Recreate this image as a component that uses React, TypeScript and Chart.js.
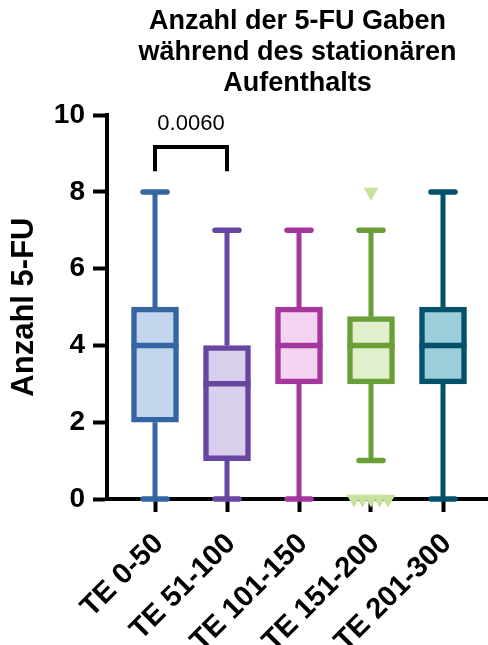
import React, { useEffect, useRef } from 'react';
import { Chart, registerables } from 'chart.js';

Chart.register(...registerables);

const FONT = '"Liberation Sans", Arial, Helvetica, sans-serif';

const titleLines = ['Anzahl der 5-FU Gaben', 'während des stationären', 'Aufenthalts'];
const yAxisTitle = 'Anzahl 5-FU';
const categories = ['TE 0-50', 'TE 51-100', 'TE 101-150', 'TE 151-200', 'TE 201-300'];
const mins = [0, 0, 0, 1, 0];
const q1s = [2, 1, 3, 3, 3];
const medians = [4, 3, 4, 4, 4];
const q3s = [5, 4, 5, 4.75, 5];
const maxs = [8, 7, 7, 7, 8];
// outliers: group index and value
const outlierGroups = [3, 3, 3, 3, 3, 3];
const outlierValues = [8, 0, 0, 0, 0, 0];
const yTicks = [0, 2, 4, 6, 8, 10];
const strokeColors = ['#3466A3', '#6646A1', '#A5369D', '#6A9E36', '#04516C'];
const fillColors = ['#C4D6EE', '#D9CEEC', '#F5D4F2', '#E2EFCD', '#9BCDDB'];
const outlierColor = '#C6E29C';
const comparisonGroups = [0, 1];
const comparisonLabel = '0.0060';
const bracketTop = 9.17;
const bracketLeg = 8.54;

function buildOutliers() {
  const pts: { x: number; y: number }[] = [];
  const seen: Record<string, number[]> = {};
  outlierValues.forEach((v, i) => {
    const k = outlierGroups[i] + ':' + v;
    (seen[k] = seen[k] || []).push(i);
  });
  Object.keys(seen).forEach((k) => {
    const idx = seen[k];
    const n = idx.length;
    idx.forEach((i, j) => {
      pts.push({ x: outlierGroups[i] + 1 + (j - (n - 1) / 2) * 0.118, y: outlierValues[i] });
    });
  });
  return pts;
}

const boxParts = {
  id: 'boxParts',
  beforeDatasetsDraw(chart: any) {
    const { ctx, scales } = chart;
    const x = scales.x, y = scales.y;
    ctx.save();
    categories.forEach((_, i) => {
      const cx = x.getPixelForValue(i + 1);
      ctx.strokeStyle = strokeColors[i];
      ctx.lineWidth = 5;
      ctx.lineCap = 'butt';
      ctx.beginPath();
      ctx.moveTo(cx, y.getPixelForValue(maxs[i]));
      ctx.lineTo(cx, y.getPixelForValue(q3s[i]));
      ctx.moveTo(cx, y.getPixelForValue(q1s[i]));
      ctx.lineTo(cx, y.getPixelForValue(mins[i]));
      ctx.stroke();
      ctx.lineWidth = 5.5;
      ctx.lineCap = 'round';
      ctx.beginPath();
      [maxs[i], mins[i]].forEach((v) => {
        const py = y.getPixelForValue(v);
        ctx.moveTo(cx - 12, py);
        ctx.lineTo(cx + 12, py);
      });
      ctx.stroke();
    });
    ctx.restore();
  },
  afterDatasetsDraw(chart: any) {
    const { ctx, scales } = chart;
    const x = scales.x, y = scales.y;
    const meta = chart.getDatasetMeta(0);
    ctx.save();
    categories.forEach((_, i) => {
      const bar = meta.data[i];
      const half = bar.width / 2;
      const cx = bar.x;
      const py = y.getPixelForValue(medians[i]);
      ctx.strokeStyle = strokeColors[i];
      ctx.lineWidth = 5.5;
      ctx.lineCap = 'butt';
      ctx.beginPath();
      ctx.moveTo(cx - half, py);
      ctx.lineTo(cx + half, py);
      ctx.stroke();
    });
    // significance bracket
    const x1 = x.getPixelForValue(comparisonGroups[0] + 1);
    const x2 = x.getPixelForValue(comparisonGroups[1] + 1);
    const yt = y.getPixelForValue(bracketTop);
    const yl = y.getPixelForValue(bracketLeg);
    ctx.strokeStyle = '#000';
    ctx.lineWidth = 4;
    ctx.lineCap = 'butt';
    ctx.lineJoin = 'miter';
    ctx.beginPath();
    ctx.moveTo(x1, yl);
    ctx.lineTo(x1, yt);
    ctx.lineTo(x2, yt);
    ctx.lineTo(x2, yl);
    ctx.stroke();
    ctx.fillStyle = '#000';
    ctx.font = '22px ' + FONT;
    ctx.textAlign = 'center';
    ctx.textBaseline = 'alphabetic';
    ctx.fillText(comparisonLabel, (x1 + x2) / 2, yt - 17);
    ctx.restore();
  },
};

export default function App() {
  const ref = useRef<HTMLCanvasElement | null>(null);
  useEffect(() => {
    document.body.style.margin = '0';
    const canvas = ref.current;
    if (!canvas) return;
    const chart = new Chart(canvas, {
      type: 'bar',
      data: {
        datasets: [
          {
            type: 'bar',
            data: categories.map((_, i) => ({ x: i + 1, y: [q1s[i], q3s[i]] })) as any,
            backgroundColor: fillColors,
            borderColor: strokeColors,
            borderWidth: 5.5,
            borderSkipped: false,
            barThickness: 47,
            order: 2,
          } as any,
          {
            type: 'scatter',
            data: buildOutliers(),
            pointStyle: 'triangle',
            rotation: 180,
            pointRadius: 8.5,
            pointBackgroundColor: outlierColor,
            pointBorderColor: outlierColor,
            pointBorderWidth: 0,
            clip: false,
            order: 1,
          } as any,
        ],
      },
      options: {
        responsive: false,
        animation: false,
        events: [],
        layout: { padding: 0, autoPadding: false },
        plugins: {
          legend: { display: false },
          tooltip: { enabled: false },
          title: {
            display: true,
            text: titleLines,
            fullSize: false,
            color: '#000',
            font: { family: FONT, size: 27, weight: 'bold', lineHeight: 1.15 },
            padding: { top: 6, bottom: 16 },
          } as any,
        },
        scales: {
          x: {
            type: 'linear',
            min: 1 / 3,
            max: 5.625,
            offset: false,
            afterBuildTicks: (s: any) => {
              s.ticks = categories.map((_, i) => ({ value: i + 1 }));
            },
            afterFit: (s: any) => {
              s.height = 146;
            },
            border: { display: true, width: 4, color: '#000' },
            grid: { offset: false, drawOnChartArea: false, drawTicks: true, tickLength: 13, tickWidth: 4, tickColor: '#000' },
            ticks: {
              autoSkip: false,
              minRotation: 45,
              maxRotation: 45,
              padding: 15,
              labelOffset: 4,
              color: '#000',
              font: { family: FONT, size: 29, weight: 'bold' },
              callback: (v: any) => categories[Math.round(Number(v)) - 1] ?? '',
            },
          } as any,
          y: {
            type: 'linear',
            min: 0,
            max: 10,
            afterBuildTicks: (s: any) => {
              s.ticks = yTicks.map((v) => ({ value: v }));
            },
            afterFit: (s: any) => {
              s.width = 107;
            },
            border: { display: true, width: 4, color: '#000' },
            grid: { drawOnChartArea: false, drawTicks: true, tickLength: 14, tickWidth: 4, tickColor: '#000' },
            ticks: {
              padding: 8,
              color: '#000',
              font: { family: FONT, size: 28, weight: 'bold' },
            },
            title: {
              display: true,
              text: yAxisTitle,
              color: '#000',
              font: { family: FONT, size: 31, weight: 'bold' },
              padding: { top: 6, bottom: 0 },
            },
          } as any,
        },
      },
      plugins: [boxParts],
    });
    return () => chart.destroy();
  }, []);
  return (
    <div style={{ position: 'absolute', left: 0, top: 0, width: 488, height: 645 }}>
      <canvas ref={ref} width={488} height={645} style={{ display: 'block' }} />
    </div>
  );
}
